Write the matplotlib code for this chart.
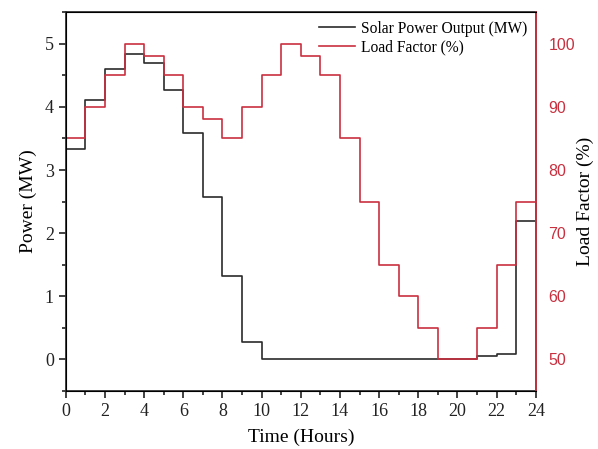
import numpy as np
import matplotlib
matplotlib.use('Agg')
import matplotlib.pyplot as plt
from matplotlib.ticker import MultipleLocator

# Datos horarios (valor constante en cada hora)
hours = list(range(25))
solar = [3.34, 4.11, 4.60, 4.83, 4.70, 4.26, 3.58, 2.57, 1.32, 0.27,
         0, 0, 0, 0, 0, 0, 0, 0, 0, 0, 0, 0.05, 0.08, 2.20]
load = [85, 90, 95, 100, 98, 95, 90, 88, 85, 90, 95, 100, 98, 95, 85,
        75, 65, 60, 55, 50, 50, 55, 65, 75]

red = '#c9303f'
plt.rcParams['font.family'] = ['Liberation Serif', 'DejaVu Serif']

fig = plt.figure(figsize=(5.98, 4.49), dpi=100)
ax = fig.add_axes([0.110, 0.129, 0.786, 0.844])

ax.plot(hours, solar + [solar[-1]], drawstyle='steps-post', color='#2b2b2b',
        lw=1.2, label='Solar Power Output (MW)')
ax.set_xlim(0, 24)
ax.set_ylim(-0.5, 5.5)
ax.xaxis.set_major_locator(MultipleLocator(2))
ax.xaxis.set_minor_locator(MultipleLocator(1))
ax.yaxis.set_major_locator(MultipleLocator(1))
ax.yaxis.set_minor_locator(MultipleLocator(0.5))
ax.tick_params(which='both', direction='out', labelsize=13, colors='#222222')
ax.tick_params(which='major', length=5, width=1.2)
ax.tick_params(which='minor', length=3, width=1.2)
ax.set_xlabel('Time (Hours)', fontsize=14, labelpad=6)
ax.set_ylabel('Power (MW)', fontsize=14, labelpad=6)
for s in ax.spines.values():
    s.set_linewidth(1.3)
    s.set_color('#333333')

ax2 = ax.twinx()
ax2.plot(hours, load + [load[-1]], drawstyle='steps-post', color=red,
         lw=1.2, label='Load Factor (%)')
ax2.set_ylim(45, 105)
ax2.yaxis.set_major_locator(MultipleLocator(10))
ax2.tick_params(axis='y', length=0, pad=9, labelcolor=red, labelsize=11.5)
for lbl in ax2.get_yticklabels():
    lbl.set_family('Liberation Sans')
ax2.spines['right'].set_color(red)
ax2.spines['right'].set_linewidth(1.3)
ax2.set_ylabel('Load Factor (%)', fontsize=14, labelpad=1)

h1, l1 = ax.get_legend_handles_labels()
h2, l2 = ax2.get_legend_handles_labels()
ax.legend(h1 + h2, l1 + l2, loc='upper right', frameon=False, fontsize=11.2,
          handlelength=2.3, handletextpad=0.4, borderaxespad=0.15,
          labelspacing=0.2)

plt.savefig('out.png', dpi=100)
